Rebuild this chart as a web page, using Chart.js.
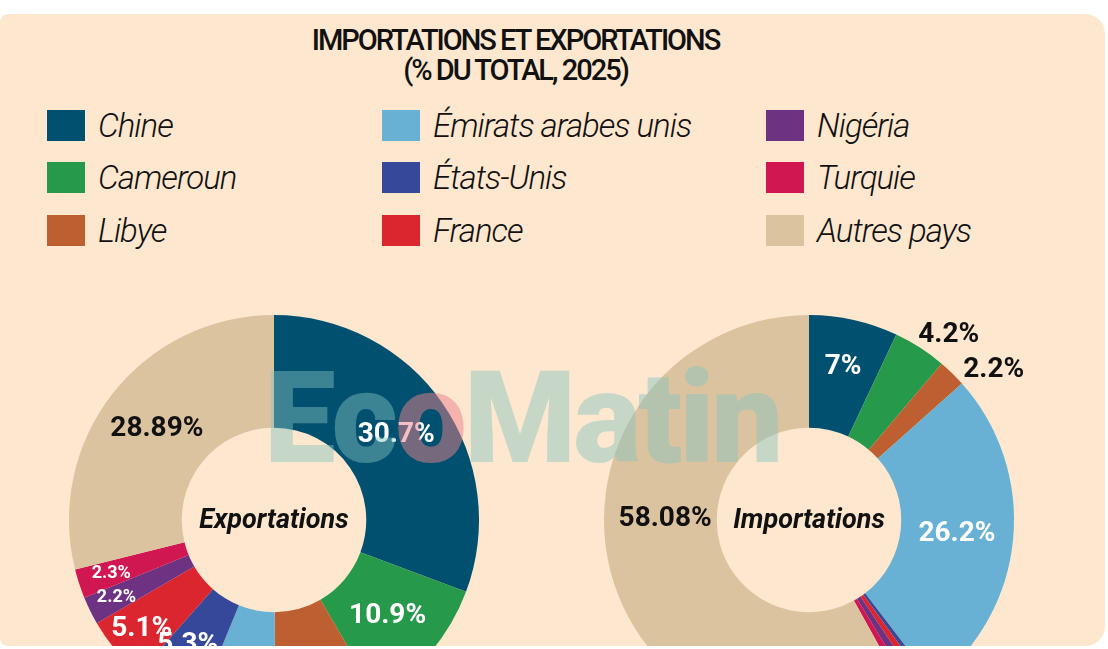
<!DOCTYPE html>
<html lang="fr">
<head>
<meta charset="utf-8">
<script src="https://cdn.jsdelivr.net/npm/chart.js@4/dist/chart.umd.min.js"></script>
<style>
  html, body { margin: 0; padding: 0; background: #fff; overflow: hidden; }
  body { width: 1108px; height: 649px; position: relative; font-family: Roboto, "Noto Sans", sans-serif; }
  #panel {
    position: absolute; left: 0; top: 14px; width: 1105px; height: 632px;
    background: #fde7cf; border-radius: 8px 20px 20px 8px; overflow: hidden;
  }
  #title {
    position: absolute; left: 0; width: 1031px; top: 11px; text-align: center;
    font-weight: 500; font-size: 29px; line-height: 30px; letter-spacing: -2px; color: #111;
  }
  .item { position: absolute; height: 31px; display: flex; align-items: center; }
  .sw { width: 38px; height: 31px; margin-right: 13px; flex: none; }
  .lbl { font-style: italic; font-weight: 300; font-size: 33px; letter-spacing: -1px; color: #111; white-space: nowrap; }
  canvas { position: absolute; }
  #mark {
    position: absolute; left: 264px; top: 334px; font-weight: 900; font-size: 128px; line-height: 140px;
    letter-spacing: -3px; color: rgba(130, 195, 190, 0.45); pointer-events: none; white-space: nowrap;
  }
  #mark .o { color: rgba(235, 130, 140, 0.5); }
</style>
</head>
<body>
<div id="panel">
  <div id="title">IMPORTATIONS ET EXPORTATIONS<br>(% DU TOTAL, 2025)</div>
  <div id="legend"></div>
  <canvas id="exp" width="410" height="410" style="left:69px; top:301px;"></canvas>
  <canvas id="imp" width="500" height="410" style="left:559px; top:301px;"></canvas>
  <div id="mark">Ec<span class="o">o</span>Matin</div>
</div>
<script>
// pays, dans l'ordre des parts (sens horaire depuis le haut)
const countries = ["Chine", "Cameroun", "Libye", "Émirats arabes unis", "États-Unis",
                   "France", "Nigéria", "Turquie", "Autres pays"];
// Libye / Émirats non étiquetés en exportations : estimés
const exportValues = [30.7, 10.9, 8.3, 6.31, 5.3, 5.1, 2.2, 2.3, 28.89];
// petits pays en importations : estimés
const importValues = [7, 4.2, 2.2, 26.2, 0.4, 0.6, 0.7, 0.62, 58.08];
const colors = ["#02506f", "#27994a", "#bd5f30", "#68b0d4", "#35489a",
                "#db2630", "#6e3283", "#d01752", "#dcc3a0"];

// legend, column by column
const legendCols = [47, 382, 766];
const legendRows = [96, 148, 201];
const legend = document.getElementById("legend");
countries.forEach((name, i) => {
  const el = document.createElement("div");
  el.className = "item";
  el.style.left = legendCols[Math.floor(i / 3)] + "px";
  el.style.top = legendRows[i % 3] + "px";
  el.innerHTML = '<span class="sw" style="background:' + colors[i] + '"></span><span class="lbl">' + name + "</span>";
  legend.appendChild(el);
});

// label styles per slice (null = no label)
const W = "#ffffff", K = "#111111";
const exportLabels = [
  { color: W, size: 28 }, { color: W, size: 28 }, null, null,
  { color: W, size: 28, f: 0.63, dy: -14 }, { color: W, size: 28, f: 0.7 },
  { color: W, size: 18, f: 0.74 }, { color: W, size: 18, f: 0.7 },
  { color: K, size: 28 }
];
const importLabels = [
  { color: W, size: 28, f: 0.57 }, { color: K, size: 28, outside: true, gap: 8, dx: -6, dy: -6 },
  { color: K, size: 28, outside: true, gap: 16, dy: 8 },
  { color: W, size: 28 }, null, null, null, null,
  { color: K, size: 28, dy: -38 }
];

function labelPlugin(styles, center) {
  return {
    id: "sliceLabels",
    afterDatasetsDraw(chart) {
      const ctx = chart.ctx;
      const meta = chart.getDatasetMeta(0);
      const values = chart.data.datasets[0].data;
      ctx.save();
      meta.data.forEach((arc, i) => {
        const st = styles[i];
        if (!st) return;
        const p = arc.getProps(["x", "y", "startAngle", "endAngle", "innerRadius", "outerRadius"], true);
        const a = (p.startAngle + p.endAngle) / 2;
        let r, align = "center";
        if (st.outside) { r = p.outerRadius + st.gap; align = "left"; }
        else r = p.innerRadius + (p.outerRadius - p.innerRadius) * (st.f || 0.5);
        const x = p.x + Math.cos(a) * r + (st.dx || 0);
        const y = p.y + Math.sin(a) * r + (st.dy || 0);
        ctx.font = "bold " + st.size + "px Roboto, sans-serif";
        ctx.fillStyle = st.color;
        ctx.textAlign = align;
        ctx.textBaseline = "middle";
        ctx.fillText(values[i] + "%", x, y);
      });
      // centre title
      const c = meta.data[0];
      ctx.font = "italic bold 27px Roboto, sans-serif";
      ctx.fillStyle = "#111";
      ctx.textAlign = "center";
      ctx.textBaseline = "middle";
      ctx.fillText(center, c.x, c.y + 1);
      ctx.restore();
    }
  };
}

function donut(id, values, styles, center) {
  return new Chart(document.getElementById(id), {
    type: "doughnut",
    data: {
      labels: countries,
      datasets: [{ data: values, backgroundColor: colors, borderWidth: 0 }]
    },
    options: {
      responsive: false,
      animation: false,
      cutout: "45%",
      layout: { padding: 0 },
      plugins: {
        legend: { display: false },
        tooltip: { enabled: false }
      }
    },
    plugins: [labelPlugin(styles, center)]
  });
}

donut("exp", exportValues, exportLabels, "Exportations");
donut("imp", importValues, importLabels, "Importations");
</script>
</body>
</html>
